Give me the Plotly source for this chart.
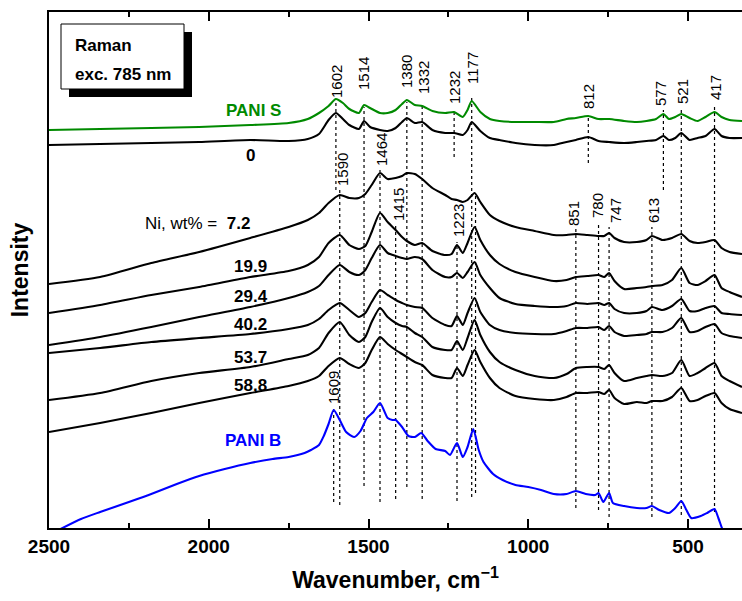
import plotly.graph_objects as go

# ---------------- data ----------------
# PANI S and Ni = 0 spectra
wn_top = [2500, 2340, 2180, 2030, 1870, 1750, 1690, 1655, 1625, 1602, 1580, 1560, 1530, 1514, 1495,
          1464, 1440, 1415, 1395, 1380, 1355, 1332, 1300, 1260, 1232, 1205, 1190, 1177, 1150, 1120,
          1090, 1040, 980, 920, 880, 851, 812, 780, 747, 700, 660, 630, 600, 577, 560,
          540, 521, 495, 470, 445, 417, 395, 370, 331]
pani_s = [398, 399, 400, 401, 403, 405, 409, 415, 422, 429, 425, 419, 415, 423, 420,
          415, 415, 418, 424, 428, 423, 422, 417, 415, 416, 411, 418, 427, 416, 409,
          407, 406, 406, 406, 409, 410, 412, 409, 409, 407, 406, 407, 409, 414, 409,
          411, 414, 410, 407, 411, 416, 411, 408, 407]
ni_0 = [383, 384, 385, 386, 388, 387, 389, 394, 408, 415, 409, 403, 399, 407, 401,
        398, 397, 400, 406, 410, 405, 406, 398, 395, 395, 393, 398, 406, 397, 390,
        388, 385, 383, 383, 386, 388, 391, 387, 386, 385, 386, 387, 388, 392, 388,
        390, 395, 388, 390, 392, 399, 392, 390, 390]

# Ni-containing samples
wn_ni = [2500, 2340, 2180, 2030, 1870, 1750, 1690, 1655, 1625, 1590, 1560, 1530, 1510, 1490, 1464,
         1440, 1415, 1395, 1380, 1355, 1332, 1300, 1260, 1240, 1223, 1205, 1190, 1168, 1150, 1120,
         1090, 1040, 980, 920, 880, 851, 815, 780, 762, 747, 730, 700, 660, 630, 613,
         580, 550, 521, 495, 470, 445, 417, 395, 370, 331]
ni_7_2 = [244, 251, 265, 276, 290, 301, 308, 315, 325, 333, 330, 330, 334, 343, 355,
          349, 350, 352, 355, 354, 349, 340, 333, 329, 328, 326, 328, 335, 326, 313,
          307, 301, 297, 293, 293, 294, 293, 292, 292, 295, 290, 286, 286, 288, 292,
          288, 290, 294, 287, 285, 286, 288, 280, 276, 274]
ni_19_9 = [215, 223, 233, 241, 251, 257, 263, 271, 285, 293, 283, 279, 282, 296, 315,
           306, 298, 291, 287, 283, 285, 277, 273, 274, 283, 275, 285, 301, 288, 273,
           264, 256, 251, 247, 248, 251, 252, 253, 251, 255, 247, 239, 240, 241, 242,
           243, 248, 260, 245, 243, 247, 253, 240, 236, 231]
ni_29_4 = [183, 191, 201, 211, 221, 230, 236, 242, 253, 263, 256, 253, 258, 270, 283,
           275, 272, 270, 269, 271, 269, 258, 251, 251, 255, 250, 256, 266, 253, 240,
           230, 224, 222, 221, 222, 225, 224, 225, 223, 225, 219, 215, 215, 217, 221,
           218, 222, 229, 217, 217, 220, 222, 215, 214, 213]
ni_40_2 = [175, 180, 186, 190, 194, 199, 203, 209, 218, 225, 218, 211, 215, 226, 238,
           233, 228, 225, 223, 221, 220, 210, 203, 202, 212, 203, 215, 230, 216, 203,
           198, 195, 194, 194, 197, 200, 200, 201, 198, 202, 196, 192, 193, 194, 196,
           196, 200, 210, 196, 197, 201, 204, 195, 192, 190]
ni_53_7 = [128, 135, 147, 155, 161, 169, 173, 180, 195, 206, 193, 186, 191, 206, 220,
           211, 205, 202, 201, 195, 191, 181, 178, 178, 187, 178, 190, 208, 193, 176,
           166, 158, 152, 150, 154, 160, 161, 161, 159, 163, 155, 147, 150, 152, 153,
           152, 155, 168, 152, 155, 160, 165, 152, 147, 141]
ni_58_8 = [96, 105, 115, 125, 135, 142, 147, 152, 162, 170, 164, 160, 165, 178, 191,
           184, 178, 174, 171, 166, 163, 153, 150, 150, 160, 152, 163, 178, 166, 150,
           140, 132, 129, 128, 131, 135, 135, 136, 134, 138, 130, 124, 126, 125, 127,
           127, 131, 140, 127, 128, 132, 135, 125, 119, 115]

# PANI B spectrum
wn_b = [2470, 2400, 2340, 2250, 2180, 2100, 2030, 1950, 1870, 1800, 1750, 1700, 1680, 1655, 1640,
        1625, 1609, 1590, 1570, 1545, 1525, 1505, 1485, 1464, 1440, 1425, 1415, 1395, 1375, 1355,
        1335, 1315, 1290, 1260, 1245, 1223, 1205, 1190, 1172, 1155, 1140, 1110, 1080, 1040, 1000,
        960, 920, 880, 851, 820, 790, 780, 765, 747, 735, 700, 660, 630, 613, 590,
        560, 540, 521, 505, 490, 460, 440, 417, 405, 395, 385]
pani_b = [-2, 9, 16, 26, 34, 44, 52, 59, 65, 69, 71, 75, 78, 83, 92,
          104, 118, 108, 96, 91, 97, 110, 116, 125, 110, 108, 108, 101, 92, 91,
          95, 87, 79, 77, 73, 85, 71, 81, 99, 78, 66, 54, 48, 43, 41,
          38, 34, 34, 37, 34, 33, 35, 26, 35, 25, 22, 20, 20, 22, 18,
          15, 20, 27, 18, 10, 12, 15, 19, 10, 1, -7]

# peak assignments (cm-1)
peaks_s = [1602, 1514, 1380, 1332, 1232, 1177, 812, 577, 521, 417]
peaks_ni = [1590, 1464, 1415, 1223, 851, 780, 747, 613]
peaks_b = [1609]
peak_unlabeled = [1165]
ni_wt = ["7.2", "19.9", "29.4", "40.2", "53.7", "58.8"]

# ---------------- geometry helpers (pixels of the 742x601 page) ----------------
L, R, T, B = 49, 742, 12, 528
def xp(px):
    return (px - L) / (R - L)
def yp(py):
    return (B - py) / (B - T)

FONT = "Liberation Sans, Arial, Helvetica, sans-serif"
GREEN = "#008a00"
BLUE = "#0000ff"

fig = go.Figure()

def add_curve(x, y, color):
    fig.add_trace(go.Scatter(x=x, y=y, mode="lines",
                             line=dict(color=color, width=2.1, shape="spline", smoothing=0.6),
                             hoverinfo="skip", showlegend=False))

add_curve(wn_top, pani_s, GREEN)
add_curve(wn_top, ni_0, "black")
for ys in [ni_7_2, ni_19_9, ni_29_4, ni_40_2, ni_53_7, ni_58_8]:
    add_curve(wn_ni, ys, "black")
add_curve(wn_b, pani_b, BLUE)

# dotted guide lines: (top px, bottom px) for each peak
line_ext = {1602: (100, 190), 1514: (107, 486), 1380: (102, 487), 1332: (105, 499),
            1232: (110, 157), 1177: (95, 497), 812: (115, 163), 577: (110, 190),
            521: (108, 515), 417: (104, 512),
            1590: (190, 505), 1464: (170, 502), 1415: (225, 499), 1223: (242, 501),
            851: (228, 508), 780: (222, 510), 747: (227, 517), 613: (227, 517),
            1609: (408, 502), 1165: (196, 493)}
shapes = []
for wn in peaks_s + peaks_ni + peaks_b + peak_unlabeled:
    top, bot = line_ext[wn]
    shapes.append(dict(type="line", xref="x", yref="paper", x0=wn, x1=wn,
                       y0=yp(bot), y1=yp(top),
                       line=dict(color="black", width=1.2, dash="dot"), layer="below"))

# Raman box with shadow
shapes.append(dict(type="rect", xref="paper", yref="paper",
                   x0=xp(69), x1=xp(192), y0=yp(97), y1=yp(32),
                   fillcolor="black", line=dict(width=0)))
shapes.append(dict(type="rect", xref="paper", yref="paper",
                   x0=xp(61), x1=xp(184), y0=yp(89), y1=yp(24),
                   fillcolor="white", line=dict(color="black", width=1)))

annotations = []
# peak labels: centre positions in px
label_pos = {1602: (336, 82), 1514: (363, 74), 1380: (406, 72), 1332: (423, 78),
             1232: (454, 88), 1177: (473, 68), 812: (589, 97), 577: (661, 94),
             521: (682, 92), 417: (715, 88),
             1590: (342, 170), 1464: (381, 150), 1415: (398, 205), 1223: (458, 221),
             851: (573, 214), 780: (597, 206), 747: (615, 211), 613: (653, 211),
             1609: (333, 388)}
for wn in peaks_s + peaks_ni + peaks_b:
    cx, cy = label_pos[wn]
    annotations.append(dict(text=str(wn), xref="paper", yref="paper", x=xp(cx), y=yp(cy),
                            xanchor="center", yanchor="middle", textangle=-90, showarrow=False,
                            font=dict(family=FONT, size=15, color="black")))

# sample labels
def lab(text, cx, cy, color="black", size=17, anchor="center"):
    annotations.append(dict(text=text, xref="paper", yref="paper", x=xp(cx), y=yp(cy),
                            xanchor=anchor, yanchor="middle", showarrow=False,
                            font=dict(family=FONT, size=size, color=color)))

lab("<b>PANI S</b>", 253, 110, GREEN)
lab("<b>0</b>", 250, 155)
lab("Ni, wt% = &nbsp;<b>" + ni_wt[0] + "</b>", 143, 224, anchor="left")
for txt, cy in zip(ni_wt[1:], [266, 296, 324, 357, 385]):
    lab("<b>" + txt + "</b>", 251, cy)
lab("<b>PANI B</b>", 253, 440, BLUE)
lab("<b>Raman</b>", 73, 45, size=17, anchor="left")
lab("<b>exc. 785 nm</b>", 73, 74, size=17, anchor="left")

fig.update_layout(
    width=742, height=601,
    margin=dict(l=L, r=742 - R, t=T, b=601 - B, pad=0),
    paper_bgcolor="white", plot_bgcolor="white",
    shapes=shapes, annotations=annotations,
    xaxis=dict(range=[2500, 331], tickvals=[2500, 2000, 1500, 1000, 500],
               ticktext=["2500", "2000", "1500", "1000", "500"],
               ticks="inside", ticklen=9, tickwidth=1.5, tickcolor="black",
               minor=dict(dtick=250, tick0=0, ticks="inside", ticklen=5, tickwidth=1.5,
                          tickcolor="black"),
               showline=True, linecolor="black", linewidth=1.5, mirror="ticks",
               showgrid=False, zeroline=False,
               tickfont=dict(family=FONT, size=19, color="black", weight="bold"),
               title=dict(text="<b>Wavenumber, cm<sup>\u22121</sup></b>", standoff=16,
                          font=dict(family=FONT, size=23, color="black"))),
    yaxis=dict(range=[0, 516], showticklabels=False, ticks="", showline=True,
               linecolor="black", linewidth=1.5, mirror=False, showgrid=False, zeroline=False,
               title=dict(text="<b>Intensity</b>", standoff=12,
                          font=dict(family=FONT, size=23, color="black"))),
)

fig.write_html("out.html")
